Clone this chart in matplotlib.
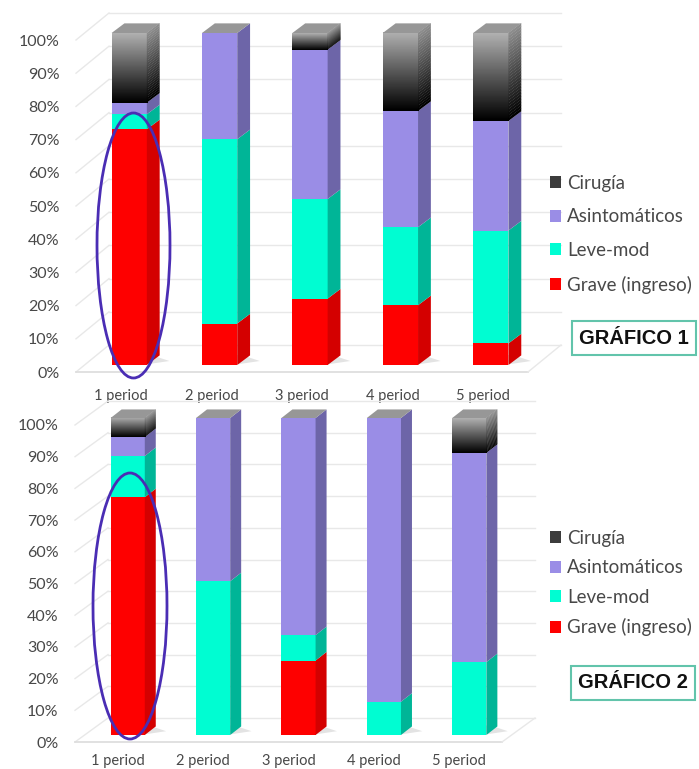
import numpy as np
from matplotlib import pyplot as plt
from matplotlib.patches import Ellipse, Patch
from matplotlib.transforms import Affine2D

plt.rcParams['font.family'] = ['Lato', 'DejaVu Sans']

periods = ['1 period', '2 period', '3 period', '4 period', '5 period']
series_names = ['Cirugía', 'Asintomáticos', 'Leve-mod', 'Grave (ingreso)']
pct_ticks = list(range(0, 101, 10))

# values, bottom segment first
grave1 = [71, 12.5, 20, 18, 6.5]
leve1 = [4.5, 55.5, 30, 23.5, 34]
asint1 = [3.5, 32, 45, 35, 33]
cirugia1 = [21, 0, 5, 23.5, 26.5]

grave2 = [75, 0, 23.5, 0, 0]
leve2 = [13, 48.5, 8, 10.5, 23]
asint2 = [6, 51.5, 68.5, 89.5, 66]
cirugia2 = [6, 0, 0, 0, 11]

W, H = 699, 769
RED, CYAN, PURPLE = '#fe0000', '#00fdd2', '#9a8de6'
RED_S, CYAN_S, PURPLE_S = '#d40000', '#00b597', '#6d65a8'
GRID = '#e8e8e8'
TXT = '#484848'

px = Affine2D().scale(1, -1).translate(0, H)  # picture pixels, y down
fade = np.linspace(0, 1, 64)[:, None]


def draw_chart(rect, segs, shift, depth, back, bar_w, xpad):
    left, top, right, bottom = rect
    ax = fig.add_axes([left / W, (H - bottom) / H, (right - left) / W, (bottom - top) / H])
    pos = np.arange(5)

    # walls and floor
    tr_back = ax.transData + Affine2D().translate(*back)
    for t in pct_ticks:
        ax.plot([-0.5, 4.5], [t, t], color=GRID, lw=1, transform=tr_back, clip_on=False, zorder=1)
        y = H - bottom + (bottom - top) * t / 100
        ax.plot([left, left + back[0]], [y, y + back[1]], color=GRID, lw=1,
                transform=None, clip_on=False, zorder=1)
    ax.plot([-0.5, 4.5], [0, 0], color='#dcdcdc', lw=1.2, clip_on=False, zorder=1)
    ax.plot([right, right + back[0]], [H - bottom, H - bottom + back[1]], color=GRID, lw=1,
            transform=None, clip_on=False, zorder=1)

    tr = ax.transData + Affine2D().translate(*shift)
    cols = [(RED, RED_S), (CYAN, CYAN_S), (PURPLE, PURPLE_S)]
    for i in pos:
        x0 = i - bar_w / 2
        x1 = i + bar_w / 2
        x2 = x1 + depth[0]
        z = 3 + i * 0.1
        # soft shadow on the floor
        ax.fill([x1 - 0.05, x1 + 0.25, x1 + 0.05, x0], [0, 1.2, 3, 3],
                color='#e3e3e3', lw=0, transform=tr, clip_on=False, zorder=z - 0.05)
        base = 0
        for vals, (c_f, c_s) in zip(segs[:3], cols):
            v = vals[i]
            if v > 0:
                ax.bar(i, v, bar_w, bottom=base, color=c_f, transform=tr, clip_on=False, zorder=z)
                ax.fill([x1, x2, x2, x1],
                        [base, base + depth[1], base + v + depth[1], base + v],
                        color=c_s, lw=0, transform=tr, clip_on=False, zorder=z)
            base += v
        v = segs[3][i]
        if v > 0:
            ax.imshow(fade, cmap=plt.cm.gray, vmin=0, vmax=1.45, origin='lower',
                      extent=(x0, x1, base, base + v), aspect='auto', transform=tr,
                      zorder=z, clip_on=False, interpolation='bilinear')
            # side of the grey block, black at the foot like the front
            steps = np.linspace(base, base + v, 31)
            for k in range(30):
                g = 0.55 * k / 29
                ax.fill([x1, x2, x2, x1],
                        [steps[k], steps[k] + depth[1], steps[k + 1] + depth[1] + 0.1, steps[k + 1] + 0.1],
                        color=str(g), lw=0, transform=tr, clip_on=False, zorder=z)
            base += v
        # top cap
        ax.fill([x0, x1, x2, x0 + depth[0]],
                [base, base, base + depth[1], base + depth[1]],
                color='#979797', lw=0, transform=tr, clip_on=False, zorder=z)

    ax.set_xlim(-0.5, 4.5)
    ax.set_ylim(0, 100)
    ax.set_xticks(pos, labels=periods)
    ax.set_yticks(pct_ticks, labels=[f'{t}%' for t in pct_ticks])
    ax.tick_params(length=0, colors=TXT)
    ax.tick_params(axis='x', labelsize=10.5, pad=xpad)
    ax.tick_params(axis='y', labelsize=11.5, pad=12)
    for s in ax.spines.values():
        s.set_visible(False)
    ax.patch.set_visible(False)
    return ax


def add_legend(ax, anchor, spacing):
    handles = [Patch(fc='#3c3c3c'), Patch(fc=PURPLE), Patch(fc=CYAN), Patch(fc=RED)]
    ax.legend(handles, series_names, loc='upper left', bbox_to_anchor=anchor,
              bbox_transform=px, frameon=False, fontsize=13.5, labelcolor=TXT,
              handlelength=0.6, handleheight=0.6, handletextpad=0.3, labelspacing=spacing,
              borderpad=0, borderaxespad=0)


fig = plt.figure(figsize=(W / 100, H / 100), dpi=100)

ax1 = draw_chart((76, 40, 528, 372), [grave1, leve1, asint1, cirugia1], (8, 7), (13 / 91.5, 2.9),
                 (33, 27), 0.39, 12)
ax2 = draw_chart((75, 425, 502, 742), [grave2, leve2, asint2, cirugia2], (10, 7), (11 / 85.5, 2.7),
                 (33, 24), 0.40, 9)
add_legend(ax1, (550, 175), 0.88)
add_legend(ax2, (550, 530), 0.66)

# hand drawn ovals round the first bar
for xy, size in [((133.5, 245.5), (73, 265)), ((130, 606), (74, 266))]:
    fig.add_artist(Ellipse(xy, *size, fc='none', ec='#4a2db4', lw=2, transform=px, zorder=10))

for s, x, y in [('GRÁFICO 1', 634, 338), ('GRÁFICO 2', 633, 683)]:
    fig.text(x / W, 1 - y / H, s, ha='center', va='center', fontsize=14.5, fontweight='bold',
             family='Liberation Sans', color='#111111', zorder=10,
             bbox=dict(boxstyle='square,pad=0.35', fc='white', ec='#62c4ab', lw=1.5))

fig.savefig('out.png', dpi=100)
